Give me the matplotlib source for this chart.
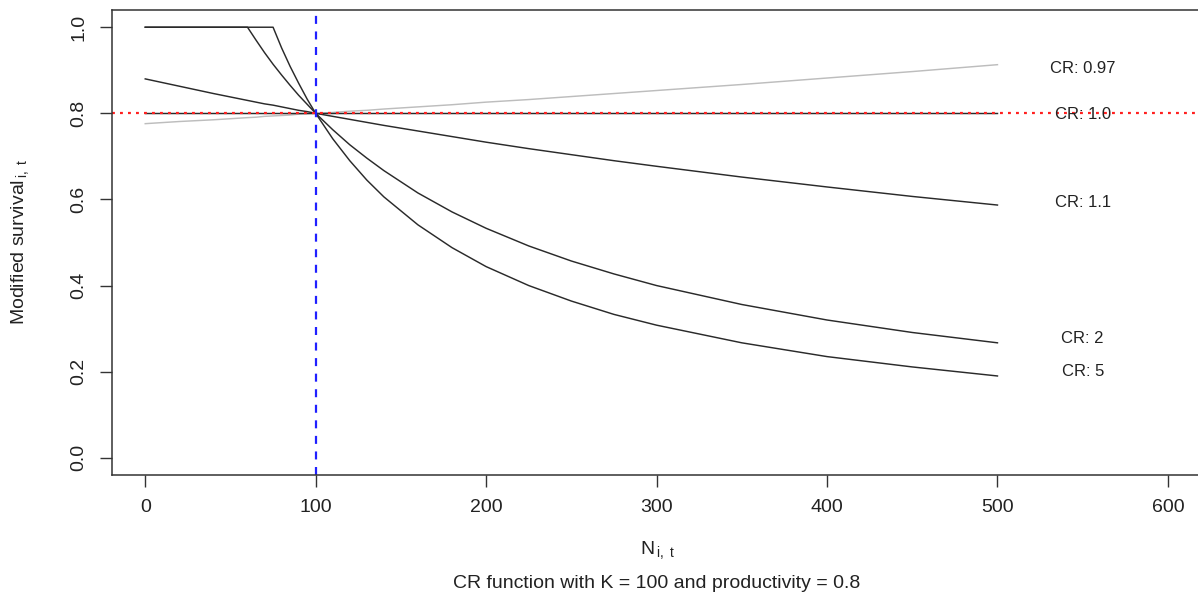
import matplotlib
matplotlib.use("Agg")
import matplotlib.pyplot as plt

plt.rcParams['font.family'] = ['Liberation Sans', 'DejaVu Sans']
plt.rcParams['mathtext.fontset'] = 'custom'
plt.rcParams['mathtext.rm'] = 'Liberation Sans'
plt.rcParams['mathtext.it'] = 'Liberation Sans'

# Population size N
N = [0, 20, 40, 60, 65, 70, 75, 80, 85, 90, 95, 100, 110, 120, 130, 140, 160, 180,
     200, 225, 250, 275, 300, 350, 400, 450, 500]

# Modified survival for each CR value
cr_097 = [0.776, 0.781, 0.785, 0.790, 0.791, 0.793, 0.794, 0.795, 0.796, 0.798, 0.799, 0.800,
          0.802, 0.805, 0.807, 0.810, 0.815, 0.820, 0.826, 0.832, 0.839, 0.846, 0.853,
          0.867, 0.882, 0.897, 0.913]
cr_10 = [0.8] * 27
cr_11 = [0.880, 0.863, 0.846, 0.830, 0.826, 0.822, 0.819, 0.815, 0.811, 0.807, 0.804, 0.800,
         0.793, 0.786, 0.779, 0.772, 0.759, 0.746, 0.733, 0.718, 0.704, 0.690, 0.677,
         0.652, 0.629, 0.607, 0.587]
cr_2 = [1.0, 1.0, 1.0, 1.0, 0.970, 0.941, 0.914, 0.889, 0.865, 0.842, 0.821, 0.800,
        0.762, 0.727, 0.696, 0.667, 0.615, 0.571, 0.533, 0.492, 0.457, 0.427, 0.400,
        0.356, 0.320, 0.291, 0.267]
cr_5 = [1.0, 1.0, 1.0, 1.0, 1.0, 1.0, 1.0, 0.952, 0.909, 0.870, 0.833, 0.800,
        0.741, 0.690, 0.645, 0.606, 0.541, 0.488, 0.444, 0.400, 0.364, 0.333, 0.308,
        0.267, 0.235, 0.211, 0.190]

labels = ["CR: 0.97", "CR: 1.0", "CR: 1.1", "CR: 2", "CR: 5"]
label_y = [0.905, 0.798, 0.594, 0.278, 0.200]
label_x = 550

K = 100
productivity = 0.8

W, H = 1198, 601
fig = plt.figure(figsize=(W / 100, H / 100), dpi=100)
left, right, top, bottom = 112, 1202, 10, 475
ax = fig.add_axes([left / W, (H - bottom) / H, (right - left) / W, (bottom - top) / H])

dark = '#2a2a2a'
ax.plot(N, cr_097, color='#bdbdbd', lw=1.05)
ax.plot(N, cr_10, color=dark, lw=1.05)
ax.plot(N, cr_11, color=dark, lw=1.05)
ax.plot(N, cr_2, color=dark, lw=1.05)
ax.plot(N, cr_5, color=dark, lw=1.05)

ax.axhline(productivity, color='#ff2020', lw=1.6, ls=(0, (1.3, 2.3)))
ax.axvline(K, color='#2020ff', lw=1.6, ls=(0, (3.6, 3.4)))

for lab, yv in zip(labels, label_y):
    ax.text(label_x, yv, lab, ha='center', va='center', fontsize=12, color='#222222')

ax.set_xlim(-19.5, 620)
ax.set_ylim(-0.04, 1.04)
ax.set_xticks([0, 100, 200, 300, 400, 500, 600])
ax.set_yticks([0.0, 0.2, 0.4, 0.6, 0.8, 1.0])
ax.set_yticklabels(['0.0', '0.2', '0.4', '0.6', '0.8', '1.0'], rotation=90, va='center')
ax.tick_params(axis='both', direction='out', length=8.5, width=1.0, color='#333333',
               labelsize=14, labelcolor='#222222', pad=9)
for sp in ax.spines.values():
    sp.set_color('#333333')
    sp.set_linewidth(1.1)

fig.text(657 / W, 1 - 550 / H, r'N$_{\,\mathrm{i,\ t}}$', ha='center', va='center',
         fontsize=14, color='#222222')
fig.text(657 / W, 1 - 584 / H, 'CR function with K = 100 and productivity = 0.8',
         ha='center', va='center', fontsize=14, color='#222222')
fig.text(20 / W, 1 - 242 / H, r'Modified survival$_{\,\mathrm{i,\ t}}$', ha='center',
         va='center', rotation=90, fontsize=14, color='#222222')

fig.savefig('out.png', dpi=100)
